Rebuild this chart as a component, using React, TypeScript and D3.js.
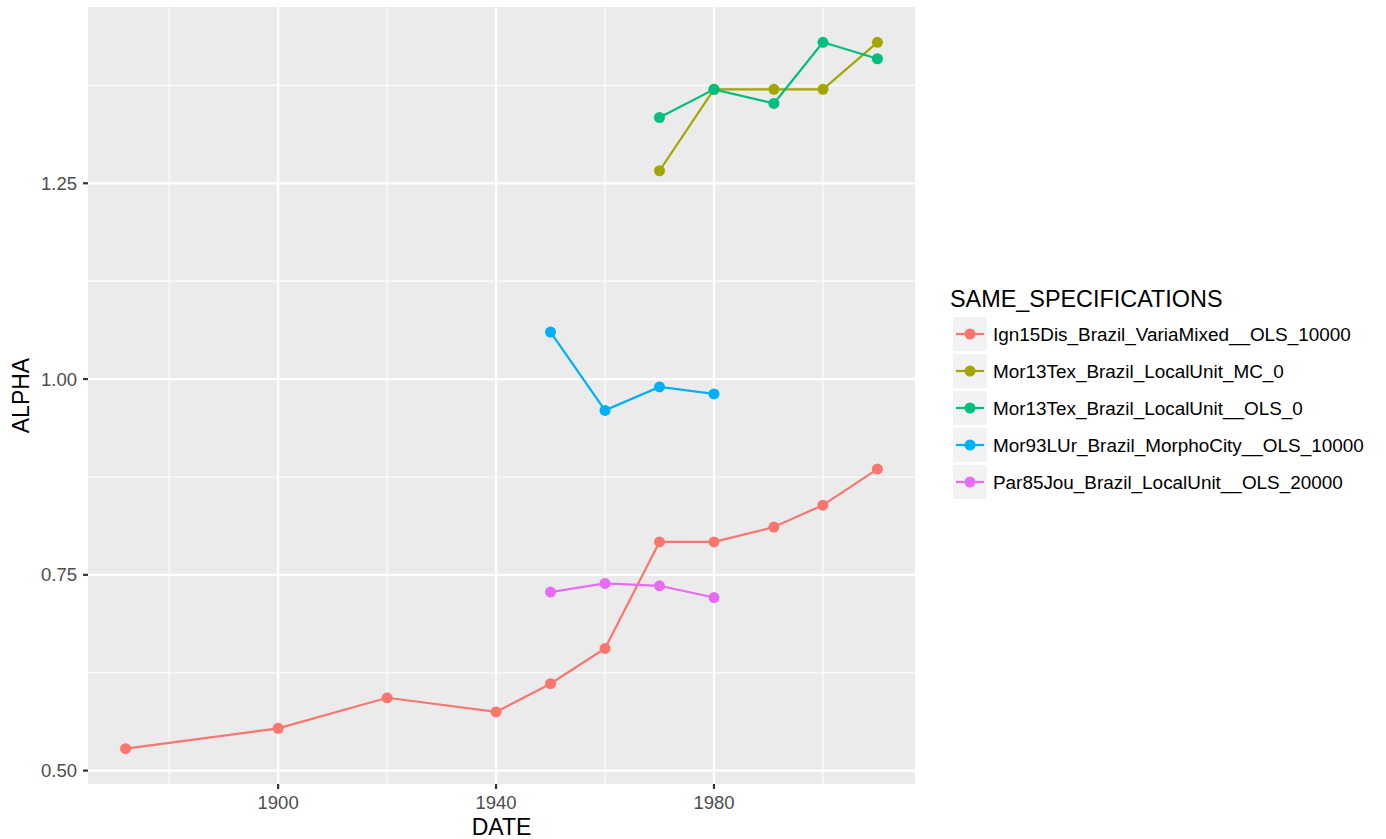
import React from "react";
import * as d3 from "d3";

const seriesNames = [
  "Ign15Dis_Brazil_VariaMixed__OLS_10000",
  "Mor13Tex_Brazil_LocalUnit_MC_0",
  "Mor13Tex_Brazil_LocalUnit__OLS_0",
  "Mor93LUr_Brazil_MorphoCity__OLS_10000",
  "Par85Jou_Brazil_LocalUnit__OLS_20000",
];
const seriesColors = ["#F8766D", "#A3A500", "#00BF7D", "#00B0F6", "#E76BF3"];

const ignDates = [1872, 1900, 1920, 1940, 1950, 1960, 1970, 1980, 1991, 2000, 2010];
const ignValues = [0.528, 0.554, 0.593, 0.575, 0.611, 0.656, 0.792, 0.792, 0.811, 0.839, 0.885];

const mcDates = [1970, 1980, 1991, 2000, 2010];
const mcValues = [1.266, 1.370, 1.370, 1.370, 1.430];

const olsDates = [1970, 1980, 1991, 2000, 2010];
const olsValues = [1.334, 1.370, 1.352, 1.430, 1.409];

const morphoDates = [1950, 1960, 1970, 1980];
const morphoValues = [1.060, 0.960, 0.990, 0.981];

const parDates = [1950, 1960, 1970, 1980];
const parValues = [0.728, 0.739, 0.736, 0.721];

const xMajorTicks = [1900, 1940, 1980];
const xMinorTicks = [1880, 1920, 1960, 2000];
const yMajorTicks = [0.5, 0.75, 1.0, 1.25];
const yMinorTicks = [0.625, 0.875, 1.125, 1.375];

const xTitle = "DATE";
const yTitle = "ALPHA";
const legendTitle = "SAME_SPECIFICATIONS";

type Pt = { x: number; y: number };

const series: { name: string; color: string; pts: Pt[] }[] = [
  [ignDates, ignValues],
  [mcDates, mcValues],
  [olsDates, olsValues],
  [morphoDates, morphoValues],
  [parDates, parValues],
].map(([ds, vs], i) => ({
  name: seriesNames[i],
  color: seriesColors[i],
  pts: (ds as number[]).map((d, j) => ({ x: d, y: (vs as number[])[j] })),
}));

const FONT = "'Liberation Sans', Arial, Helvetica, sans-serif";

export default function App() {
  const W = 1386;
  const H = 839;
  const left = 88;
  const right = 915;
  const top = 7;
  const bottom = 784;

  const allX = series.flatMap((s) => s.pts.map((p) => p.x));
  const allY = series.flatMap((s) => s.pts.map((p) => p.y));
  const [x0, x1] = d3.extent(allX) as [number, number];
  const [y0, y1] = d3.extent(allY) as [number, number];
  const xe = (x1 - x0) * 0.05;
  const ye = (y1 - y0) * 0.05;

  const xScale = d3.scaleLinear().domain([x0 - xe, x1 + xe]).range([left, right]);
  const yScale = d3.scaleLinear().domain([y0 - ye, y1 + ye]).range([bottom, top]);

  const line = d3
    .line<Pt>()
    .x((d) => xScale(d.x))
    .y((d) => yScale(d.y));

  const legendX = 953;
  const legendRow0 = 317;
  const legendPitch = 37;
  const keySize = 34;

  return (
    <svg
      width={W}
      height={H}
      style={{ position: "absolute", left: 0, top: 0, background: "#fff" }}
      fontFamily={FONT}
    >
      <rect x={0} y={0} width={W} height={H} fill="#fff" />
      <rect x={left} y={top} width={right - left} height={bottom - top} fill="#EBEBEB" />
      {/* minor grid */}
      {xMinorTicks.map((t) => (
        <line key={"xm" + t} x1={xScale(t)} x2={xScale(t)} y1={top} y2={bottom} stroke="#fff" strokeWidth={1.1} />
      ))}
      {yMinorTicks.map((t) => (
        <line key={"ym" + t} x1={left} x2={right} y1={yScale(t)} y2={yScale(t)} stroke="#fff" strokeWidth={1.1} />
      ))}
      {/* major grid */}
      {xMajorTicks.map((t) => (
        <line key={"xM" + t} x1={xScale(t)} x2={xScale(t)} y1={top} y2={bottom} stroke="#fff" strokeWidth={2.2} />
      ))}
      {yMajorTicks.map((t) => (
        <line key={"yM" + t} x1={left} x2={right} y1={yScale(t)} y2={yScale(t)} stroke="#fff" strokeWidth={2.2} />
      ))}

      {/* series */}
      {series.map((s) => (
        <g key={s.name}>
          <path d={line(s.pts) || ""} fill="none" stroke={s.color} strokeWidth={2.2} />
          {s.pts.map((p, i) => (
            <circle key={i} cx={xScale(p.x)} cy={yScale(p.y)} r={5.5} fill={s.color} />
          ))}
        </g>
      ))}

      {/* axes ticks and labels */}
      {xMajorTicks.map((t) => (
        <g key={"xt" + t}>
          <line x1={xScale(t)} x2={xScale(t)} y1={bottom} y2={bottom + 5} stroke="#333" strokeWidth={2.2} />
          <text x={xScale(t)} y={808.5} textAnchor="middle" fontSize={18.5} fill="#4D4D4D">
            {t}
          </text>
        </g>
      ))}
      {yMajorTicks.map((t) => (
        <g key={"yt" + t}>
          <line x1={left - 5} x2={left} y1={yScale(t)} y2={yScale(t)} stroke="#333" strokeWidth={2.2} />
          <text
            x={77}
            y={yScale(t)}
            textAnchor="end"
            dominantBaseline="central"
            fontSize={18.5}
            fill="#4D4D4D"
          >
            {d3.format(".2f")(t)}
          </text>
        </g>
      ))}

      <text x={(left + right) / 2} y={835} textAnchor="middle" fontSize={23} fill="#000">
        {xTitle}
      </text>
      <text
        transform={`translate(29, ${(top + bottom) / 2}) rotate(-90)`}
        textAnchor="middle"
        fontSize={23}
        fill="#000"
      >
        {yTitle}
      </text>

      {/* legend */}
      <text x={950} y={307} fontSize={23.4} fill="#000">
        {legendTitle}
      </text>
      {series.map((s, i) => {
        const y = legendRow0 + i * legendPitch;
        const cy = y + keySize / 2;
        return (
          <g key={"lg" + s.name}>
            <rect x={legendX} y={y} width={keySize} height={keySize} fill="#F2F2F2" />
            <line x1={legendX + 3} x2={legendX + keySize - 3} y1={cy} y2={cy} stroke={s.color} strokeWidth={2.2} />
            <circle cx={legendX + keySize / 2} cy={cy} r={5.5} fill={s.color} />
            <text x={993} y={cy} dominantBaseline="central" fontSize={18.9} fill="#000">
              {s.name}
            </text>
          </g>
        );
      })}
    </svg>
  );
}
